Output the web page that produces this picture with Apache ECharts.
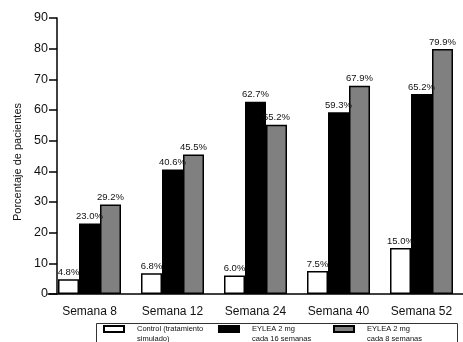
<!DOCTYPE html>
<html>
<head>
<meta charset="utf-8">
<script src="https://cdn.jsdelivr.net/npm/echarts@6/dist/echarts.min.js"></script>
<style>
  html, body { margin: 0; padding: 0; background: #fff; }
  #chart { width: 463px; height: 342px; }
</style>
</head>
<body>
<div id="chart"></div>
<script>
// Weeks of treatment on the x axis
const weeks = ['Semana 8', 'Semana 12', 'Semana 24', 'Semana 40', 'Semana 52'];

// Share of patients (%) per treatment arm
const controlValues = [4.8, 6.8, 6.0, 7.5, 15.0];
const eylea16Values = [23.0, 40.6, 62.7, 59.3, 65.2];
const eylea8Values = [29.2, 45.5, 55.2, 67.9, 79.9];

const seriesNames = [
  'Control (tratamiento\nsimulado)',
  'EYLEA 2 mg\ncada 16 semanas',
  'EYLEA 2 mg\ncada 8 semanas'
];

const yTicks = { min: 0, max: 90, interval: 10 };

const font = '"Liberation Sans", Arial, sans-serif';

function barSeries(name, values, fill) {
  return {
    name: name,
    type: 'bar',
    data: values,
    barWidth: 21,
    barGap: '0%',
    itemStyle: { color: fill, borderColor: '#000', borderWidth: 1.5 },
    label: {
      show: true,
      position: 'top',
      distance: 2,
      fontFamily: font,
      fontSize: 9.5,
      color: '#111',
      formatter: p => p.value.toFixed(1) + '%'
    }
  };
}

// One legend per arm; a blank leading line keeps the first text line level with the swatch
function legendFor(name, left) {
  return {
    data: [name],
    left: left,
    top: 314,
    orient: 'horizontal',
    itemWidth: 20,
    itemHeight: 6,
    itemGap: 0,
    padding: 0,
    selectedMode: false,
    icon: 'rect',
    formatter: n => '\n' + n,
    textStyle: {
      fontFamily: font, fontSize: 7.5, color: '#111', lineHeight: 10,
      padding: [0, 0, 0, 8]
    }
  };
}

const chart = echarts.init(document.getElementById('chart'), null, { renderer: 'canvas' });

chart.setOption({
  animation: false,
  backgroundColor: '#fff',
  grid: { left: 48, top: 18, width: 430, bottom: 48, containLabel: false },
  xAxis: {
    type: 'category',
    data: weeks,
    axisLine: { lineStyle: { color: '#000', width: 1.5 } },
    axisTick: { alignWithLabel: true, length: 6, lineStyle: { color: '#000', width: 1.5 } },
    axisLabel: { fontFamily: font, fontSize: 12, color: '#111', margin: 12 }
  },
  yAxis: {
    type: 'value',
    min: yTicks.min,
    max: yTicks.max,
    interval: yTicks.interval,
    offset: -9,
    name: 'Porcentaje de pacientes',
    nameLocation: 'middle',
    nameGap: 34,
    nameTextStyle: { fontFamily: font, fontSize: 11, color: '#111', padding: [0, 12, 0, 0] },
    splitLine: { show: false },
    axisLine: { show: true, lineStyle: { color: '#000', width: 1.5 } },
    axisTick: { show: true, length: 8, lineStyle: { color: '#000', width: 1.5 } },
    axisLabel: { fontFamily: font, fontSize: 12.5, color: '#111', margin: 9 }
  },
  legend: [
    legendFor(seriesNames[0], 103),
    legendFor(seriesNames[1], 218),
    legendFor(seriesNames[2], 333)
  ],
  graphic: [{
    type: 'rect',
    shape: { x: 96.5, y: 323.5, width: 361, height: 30 },
    style: { fill: 'none', stroke: '#333', lineWidth: 1 },
    silent: true
  }],
  series: [
    barSeries(seriesNames[0], controlValues, '#fff'),
    barSeries(seriesNames[1], eylea16Values, '#000'),
    barSeries(seriesNames[2], eylea8Values, '#808080')
  ]
});
</script>
</body>
</html>
